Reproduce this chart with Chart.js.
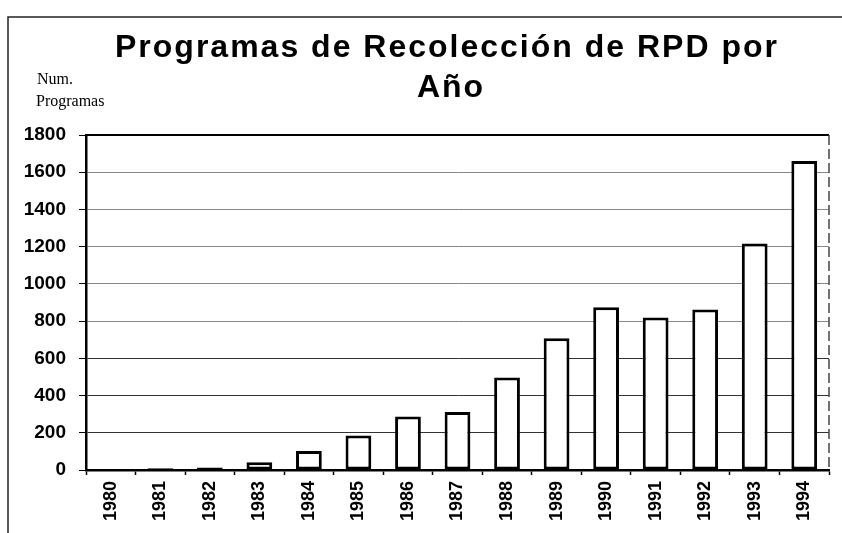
<!DOCTYPE html>
<html>
<head>
<meta charset="utf-8">
<script src="https://cdn.jsdelivr.net/npm/chart.js@4"></script>
<style>
  html, body { margin: 0; padding: 0; background: #fff; }
  #wrap { width: 842px; height: 533px; position: relative; }
</style>
</head>
<body>
<div id="wrap"><canvas id="rpd-chart" width="842" height="533"></canvas></div>
<script>
// datos
const years = ['1980', '1981', '1982', '1983', '1984', '1985', '1986', '1987',
               '1988', '1989', '1990', '1991', '1992', '1993', '1994'];
const programas = [6, 9, 14, 42, 102, 185, 287, 312, 497, 708, 874, 820, 862, 1217, 1660];
const yTicks = [0, 200, 400, 600, 800, 1000, 1200, 1400, 1600, 1800];
const titleLines = ['Programas de Recolección de RPD por', 'Año'];
const yLabelLines = ['Num.', 'Programas'];

// marco, titulo y rotulo del eje
const decor = {
  id: 'decor',
  beforeDraw(chart) {
    const ctx = chart.ctx;
    ctx.save();
    ctx.fillStyle = '#fff';
    ctx.fillRect(0, 0, chart.width, chart.height);
    ctx.strokeStyle = '#222';
    ctx.lineWidth = 1.5;
    ctx.beginPath();
    ctx.moveTo(8, 533);
    ctx.lineTo(8, 17);
    ctx.lineTo(842, 17);
    ctx.stroke();
    ctx.restore();
  },
  afterDraw(chart) {
    const ctx = chart.ctx;
    const a = chart.chartArea;
    ctx.save();
    // titulo
    ctx.fillStyle = '#000';
    ctx.font = 'bold 32px "Liberation Sans", Arial, sans-serif';
    ctx.letterSpacing = '2px';
    ctx.textAlign = 'center';
    ctx.textBaseline = 'alphabetic';
    ctx.fillText(titleLines[0], 447, 57);
    ctx.fillText(titleLines[1], 451, 97);
    // rotulo eje y
    ctx.letterSpacing = '0px';
    ctx.font = '16px "Liberation Serif", "Times New Roman", serif';
    ctx.textAlign = 'left';
    ctx.fillText(yLabelLines[0], 37, 84);
    ctx.fillText(yLabelLines[1], 36, 106);
    // borde superior y derecho del area
    ctx.strokeStyle = '#000';
    ctx.lineWidth = 2;
    ctx.beginPath();
    ctx.moveTo(a.left, a.top);
    ctx.lineTo(a.right, a.top);
    ctx.stroke();
    ctx.strokeStyle = '#444';
    ctx.lineWidth = 1.5;
    ctx.setLineDash([10, 4]);
    ctx.beginPath();
    ctx.moveTo(a.right, a.top);
    ctx.lineTo(a.right, a.bottom);
    ctx.stroke();
    ctx.restore();
  }
};

const ctx = document.getElementById('rpd-chart').getContext('2d');
new Chart(ctx, {
  type: 'bar',
  data: {
    labels: years,
    datasets: [{
      label: 'Num. Programas',
      data: programas,
      backgroundColor: '#fff',
      borderColor: '#000',
      borderWidth: 3,
      borderSkipped: false,
      categoryPercentage: 1,
      barPercentage: 0.52
    }]
  },
  options: {
    responsive: false,
    animation: false,
    devicePixelRatio: 1,
    layout: {
      padding: { top: 135, left: 18, right: 13, bottom: 0 }
    },
    scales: {
      x: {
        afterFit: (scale) => { scale.height = 63; },
        grid: {
          drawOnChartArea: false,
          drawTicks: true,
          tickLength: 5,
          tickColor: '#000',
          tickWidth: 1.5
        },
        border: { color: '#000', width: 2.5 },
        ticks: {
          color: '#000',
          minRotation: 90,
          maxRotation: 90,
          padding: 6,
          font: { family: '"Liberation Sans", Arial, sans-serif', size: 18, weight: 'bold' }
        }
      },
      y: {
        min: 0,
        max: 1800,
        afterFit: (scale) => { scale.width = 68; },
        afterBuildTicks: (scale) => { scale.ticks = yTicks.map(v => ({ value: v })); },
        grid: {
          color: (c) => c.tick && c.tick.value > 600 ? '#888' : '#333',
          lineWidth: 1,
          tickLength: 7,
          tickColor: '#000',
          tickWidth: 1
        },
        border: { color: '#000', width: 2.5 },
        ticks: {
          color: '#000',
          padding: 13,
          callback: (v) => String(v),
          font: { family: '"Liberation Sans", Arial, sans-serif', size: 19, weight: 'bold' }
        }
      }
    },
    plugins: {
      legend: { display: false },
      tooltip: { enabled: false },
      title: { display: false }
    }
  },
  plugins: [decor]
});
</script>
</body>
</html>
